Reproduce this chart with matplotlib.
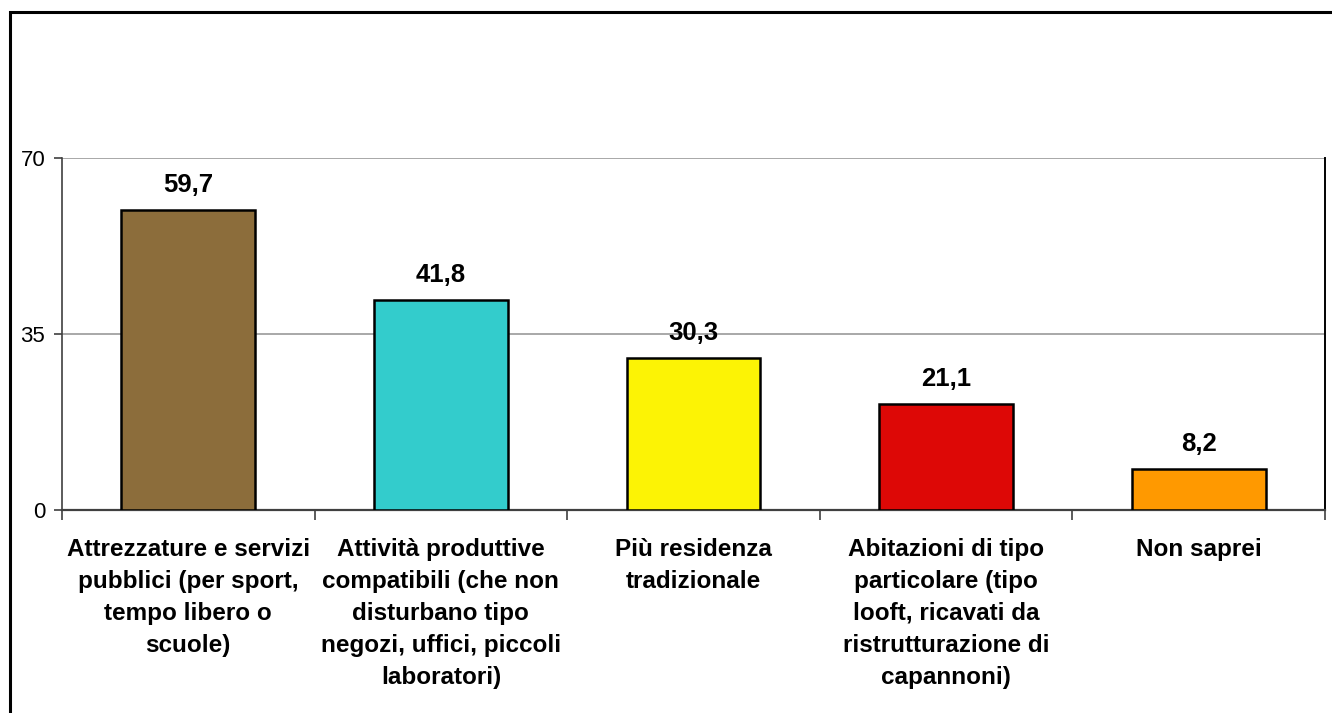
import matplotlib
matplotlib.use("Agg")
import matplotlib.pyplot as plt
from matplotlib.patches import Rectangle

categories = [
    "Attrezzature e servizi\npubblici (per sport,\ntempo libero o\nscuole)",
    "Attività produttive\ncompatibili (che non\ndisturbano tipo\nnegozi, uffici, piccoli\nlaboratori)",
    "Più residenza\ntradizionale",
    "Abitazioni di tipo\nparticolare (tipo\nlooft, ricavati da\nristrutturazione di\ncapannoni)",
    "Non saprei",
]
values = [59.7, 41.8, 30.3, 21.1, 8.2]
colors = ["#8C6D3B", "#33CCCC", "#FCF305", "#DD0806", "#FF9900"]
yticks = [0, 35, 70]

plt.rcParams["font.family"] = ["Liberation Sans", "DejaVu Sans"]

fig = plt.figure(figsize=(13.32, 7.13), dpi=100)
ax = fig.add_axes([62 / 1332, 1 - 510 / 713, (1325 - 62) / 1332, (510 - 158) / 713])

x = list(range(len(values)))
bars = ax.bar(x, values, width=0.53, color=colors, edgecolor="black", linewidth=1.8, zorder=3)

for xi, v in zip(x, values):
    ax.annotate(f"{v:.1f}".replace(".", ","), (xi, v), xytext=(0, 18),
                textcoords="offset points", ha="center", va="center",
                fontsize=18.5, fontweight="bold")

ax.set_xlim(-0.5, len(values) - 0.5)
ax.set_ylim(0, 70)
ax.set_yticks(yticks)
ax.set_yticklabels([str(t) for t in yticks], fontsize=16)
ax.tick_params(axis="y", length=6, width=1.2, color="#404040", pad=6)

# category boundaries carry the tick marks; centres carry the labels
ax.set_xticks([i - 0.5 for i in range(len(values) + 1)])
ax.set_xticklabels([])
ax.tick_params(axis="x", which="major", length=7, width=1.2, color="#404040")
ax.set_xticks(x, minor=True)
ax.set_xticklabels(categories, minor=True, fontsize=17.5, fontweight="bold", linespacing=1.5)
ax.tick_params(axis="x", which="minor", length=0, pad=20)

ax.yaxis.grid(True, color="#999999", linewidth=1.2, zorder=0)
ax.set_axisbelow(True)

ax.spines["top"].set_visible(False)
ax.spines["left"].set_color("#404040")
ax.spines["left"].set_linewidth(1.2)
ax.spines["bottom"].set_color("#404040")
ax.spines["bottom"].set_linewidth(1.6)
ax.spines["right"].set_color("black")
ax.spines["right"].set_linewidth(1.4)

# outer chart frame
fig.add_artist(Rectangle((10 / 1332, -0.05), 1.1, 1 - 12 / 713 + 0.05,
                         transform=fig.transFigure, fill=False,
                         edgecolor="black", linewidth=2.2, clip_on=False))

fig.savefig("out.png", dpi=100)
